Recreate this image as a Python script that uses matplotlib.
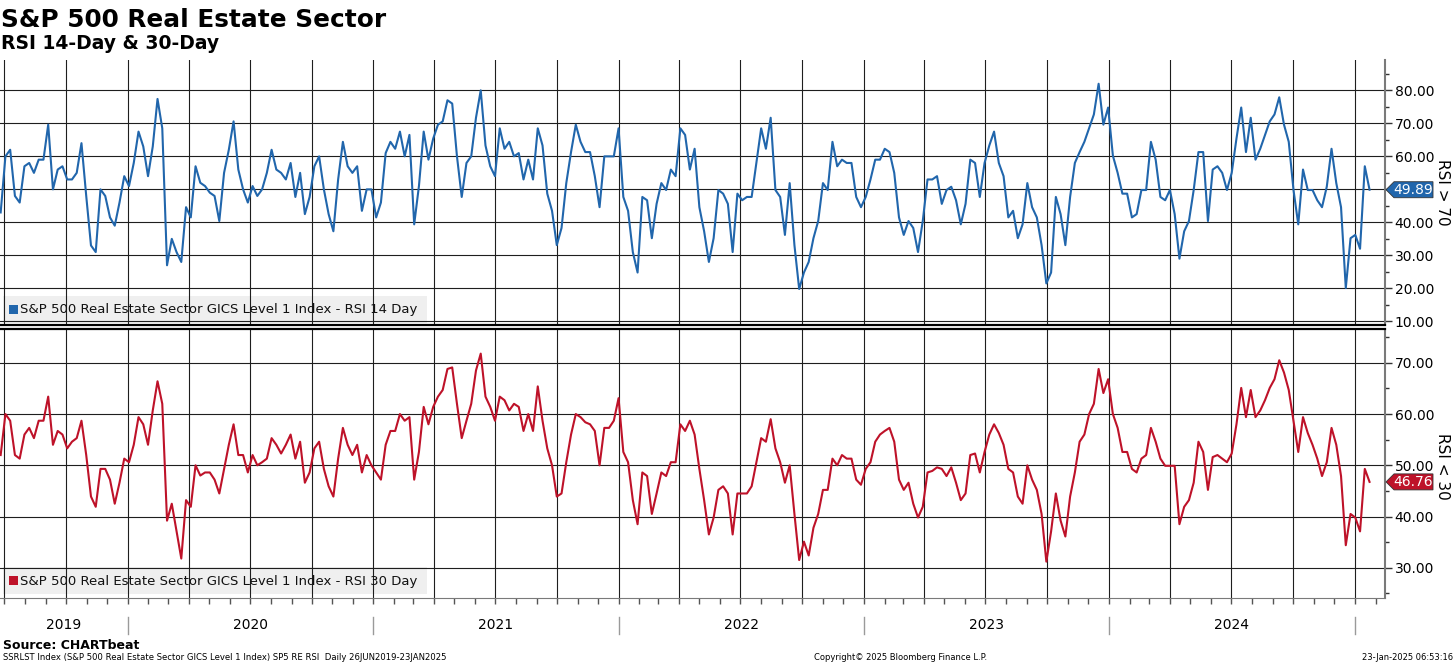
#!/usr/bin/env python3

import matplotlib
matplotlib.use("Agg")
from matplotlib import pyplot as plt
from matplotlib import dates as mdates
from matplotlib import transforms
from matplotlib.lines import Line2D
from matplotlib.patches import Polygon, Rectangle
from matplotlib.ticker import MultipleLocator, FormatStrFormatter, NullFormatter
import pandas as pd

# weekly readings, 26 Jun 2019 .. 23 Jan 2025
rsi_14 = [
    43, 60, 62, 48, 46, 57, 58, 55, 59, 59,
    69.6, 50, 56, 57, 53, 53, 55, 64, 48, 33,
    31, 50, 48, 41.5, 39, 46, 54, 51, 58, 67.5,
    63, 54, 63, 77.4, 68.5, 27, 35, 31, 28, 44.6,
    41.5, 57, 52, 51, 49, 48, 40.4, 55, 62, 70.6,
    56, 50, 46, 51, 48, 50, 55, 62, 56,
    55, 53, 58, 47.7, 55, 42.5, 47.7, 57, 60, 50,
    42.5, 37.3, 53, 64.4, 57, 55, 57, 43.5, 50, 50,
    41.5, 46, 61, 64.4, 62.3, 67.5, 60, 66.5, 39.4, 51,
    67.5, 59, 65.4, 69.6, 70.6, 77, 76, 60, 47.7, 58,
    60, 71.7, 80, 63.3, 57, 54, 68.5, 62.3, 64.4, 60,
    61, 53, 59, 53, 68.5, 63.3, 48.7, 43.5,
    33.1, 38.3, 51.9, 61.3, 69.6, 64.4, 61.3, 61.3, 54, 44.6,
    60, 60, 60, 68.5, 47.7, 43.5, 31, 24.8, 47.7, 46.7,
    35.2, 45.6, 51.9, 49.8, 56, 54, 68.5, 66.5, 56, 62.3,
    44.6, 37.3, 28, 35.2, 49.8, 48.7, 45.6, 31, 48.7, 46.7,
    47.7, 47.7, 58, 68.5, 62.3, 71.7, 49.8, 47.7, 36.2, 51.9,
    33.1, 19.8, 24.8, 28, 35.2, 40.4, 51.9, 49.8,
    64.4, 57, 59, 58, 58, 47.7, 44.6, 47.7, 53, 59,
    59, 62.3, 61.3, 55, 41.5, 36.2, 40.4, 38.3, 31, 40.4,
    53, 53, 54, 45.6, 49.8, 50.8, 46.7, 39.4, 45.6, 59,
    58, 47.7, 58, 63.3, 67.5, 58, 54, 41.5, 43.5, 35.2,
    39.4, 51.9, 44.6, 41.5, 33.1, 21.5, 24.8, 47.7, 42.5, 33.1,
    47.7, 58, 61.3, 64.4, 68.5, 72.7, 82, 69.6,
    74.8, 60.2, 55, 48.7, 48.7, 41.5, 42.5, 49.8, 49.8, 64.4,
    59, 47.7, 46.7, 49.8, 42.5, 29, 37.3, 40.4, 49.8, 61.3,
    61.3, 40.4, 56, 57, 55, 49.8, 55, 65.4, 74.8, 61.3,
    71.7, 59, 62.3, 66.5, 70.6, 72.7, 77.9, 69.6, 64.4, 49.8,
    39.4, 56, 49.8, 49.8, 46.7, 44.6, 50.8, 62.3, 51.9, 44.6,
    20.1, 35.2, 36.2, 32, 57, 49.89,
]
rsi_30 = [
    52, 60, 58.7, 52, 51.3, 56, 57.3, 55.3, 58.7, 58.7,
    63.4, 54, 56.7, 56, 53.3, 54.6, 55.3, 58.7, 52, 43.9,
    41.9, 49.3, 49.3, 47.2, 42.5, 46.6, 51.3, 50.6, 54, 59.4,
    58, 54, 60.7, 66.4, 62, 39.2, 42.5, 37.1, 31.8, 43.2,
    41.9, 50, 48, 48.6, 48.6, 47.2, 44.5, 49.3, 54, 58,
    52, 52, 48.6, 52, 50, 50.6, 51.3, 55.3, 54,
    52.3, 54, 56, 51.3, 54.6, 46.6, 48.6, 53.3, 54.6, 49.3,
    45.9, 43.9, 51.3, 57.3, 54, 52, 54, 48.6, 52, 50,
    48.6, 47.2, 54, 56.7, 56.7, 60, 58.7, 59.4, 47.2, 52.6,
    61.4, 58, 61.4, 63.4, 64.7, 68.8, 69.1, 62, 55.3, 58.7,
    62, 68.5, 71.8, 63.4, 61.4, 58.7, 63.4, 62.7, 60.7, 62,
    61.4, 56.7, 60, 56.7, 65.4, 58.7, 53.3, 50,
    43.9, 44.5, 50.6, 56, 60, 59.4, 58.4, 58, 56.7, 50,
    57.3, 57.3, 58.7, 63.1, 52.6, 50.6, 43.2, 38.5, 48.6, 47.9,
    40.5, 44.5, 48.6, 47.9, 50.6, 50.6, 58, 56.7, 58.7, 56,
    49.3, 43.2, 36.5, 39.8, 45.2, 45.9, 44.5, 36.5, 44.5, 44.5,
    44.5, 45.9, 50.6, 55.3, 54.6, 59, 53.3, 50.6, 46.6, 50,
    40.5, 31.5, 35.1, 32.4, 37.8, 40.5, 45.2, 45.2,
    51.3, 50, 52, 51.3, 51.3, 47.2, 46.2, 49.3, 50.6, 54.6,
    56, 56.7, 57.3, 54.6, 47.2, 45.2, 46.6, 42.5, 39.8, 41.9,
    48.6, 48.9, 49.6, 49.3, 47.9, 49.6, 46.6, 43.2, 44.5, 52,
    52.3, 48.6, 52.6, 56, 58, 56.3, 54, 49.3, 48.6, 43.9,
    42.5, 50, 47.2, 45.2, 40.5, 31.2, 37.1, 44.5, 39.2, 36.1,
    43.9, 48.6, 54.6, 56, 60, 62, 68.8, 64.1,
    66.8, 60, 57.3, 52.6, 52.6, 49.3, 48.6, 51.3, 52, 57.3,
    54.6, 51.3, 49.9, 49.9, 49.9, 38.5, 41.9, 43.2, 46.6, 54.6,
    52.6, 45.2, 51.6, 52, 51.3, 50.6, 52.3, 58, 65.1, 59.4,
    64.7, 59.4, 60.7, 62.7, 65.1, 66.8, 70.5, 68.1, 64.7, 58.7,
    52.6, 59.4, 56.3, 54, 51.3, 47.9, 50.6, 57.3, 54, 47.9,
    34.4, 40.5, 39.8, 37.1, 49.3, 46.76,
]
first_day = "2019-06-26"
last_day = "2025-01-23"
years = [2019, 2020, 2021, 2022, 2023, 2024]

title = "S&P 500 Real Estate Sector"
subtitle = "RSI 14-Day & 30-Day"
legend_14 = "S&P 500 Real Estate Sector GICS Level 1 Index - RSI 14 Day"
legend_30 = "S&P 500 Real Estate Sector GICS Level 1 Index - RSI 30 Day"
side_14 = "RSI > 70"
side_30 = "RSI < 30"
source = "Source: CHARTbeat"
footer_left = "SSRLST Index (S&P 500 Real Estate Sector GICS Level 1 Index) SP5 RE RSI  Daily 26JUN2019-23JAN2025"
footer_mid = "Copyright\u00a9 2025 Bloomberg Finance L.P."
footer_right = "23-Jan-2025 06:53:16"

blue = "#2166ac"
red = "#be1229"

W, H = 1456, 665
plt.rcParams["font.family"] = ["DejaVu Sans"]

dates = pd.date_range(first_day, last_day, periods=len(rsi_14))

fig = plt.figure(figsize=(W / 100, H / 100), dpi=100)


def px(x, y):
    return x / W, 1 - y / H


ax1 = fig.add_axes([0, 1 - 325 / H, 1385 / W, 265 / H])
ax2 = fig.add_axes([0, 1 - 598 / H, 1385 / W, 269 / H])

ax1.plot(dates, rsi_14, color=blue, linewidth=1.5, zorder=2)
ax2.plot(dates, rsi_30, color=red, linewidth=1.5, zorder=2)
ax1.set_ylim(8.9, 89.2)
ax2.set_ylim(24.1, 76.6)

for ax in (ax1, ax2):
    ax.set_xlim(pd.Timestamp("2019-06-25"), pd.Timestamp("2025-02-15"))
    ax.xaxis.set_major_locator(mdates.MonthLocator(bymonth=[1, 4, 7, 10]))
    ax.xaxis.set_minor_locator(mdates.MonthLocator())
    ax.xaxis.set_major_formatter(NullFormatter())
    ax.yaxis.tick_right()
    ax.yaxis.set_major_locator(MultipleLocator(10))
    ax.yaxis.set_minor_locator(MultipleLocator(5))
    ax.yaxis.set_major_formatter(FormatStrFormatter("%.2f"))
    ax.grid(True, which="major", color="#1e1e1e", linewidth=0.8)
    ax.set_axisbelow(True)
    ax.spines["left"].set_visible(False)
    ax.spines["top"].set_visible(False)
    ax.spines["right"].set_color("#7a7a7a")
    ax.spines["right"].set_linewidth(1.5)
    ax.tick_params(axis="y", which="major", length=5, width=1, color="#333333",
                   labelsize=10, pad=2)
    ax.tick_params(axis="y", which="minor", length=3, width=1, color="#333333")

ax1.tick_params(axis="x", which="both", length=0)
ax1.spines["bottom"].set_color("black")
ax1.spines["bottom"].set_linewidth(1.6)
ax2.spines["top"].set_visible(True)
ax2.spines["top"].set_color("black")
ax2.spines["top"].set_linewidth(1.6)
ax2.spines["bottom"].set_color("#7a7a7a")
ax2.tick_params(axis="x", which="both", length=4, width=1, color="#555555")

# legends
for ax, text, color, top in ((ax1, legend_14, blue, 296), (ax2, legend_30, red, 567)):
    x0, y0 = px(3, top + 27)
    x1, y1 = px(427, top)
    ax.add_patch(Rectangle((x0, y0), x1 - x0, y1 - y0, transform=fig.transFigure,
                           facecolor="#efefef", edgecolor="none", zorder=0.1))
    sx, sy = px(9, top + 18)
    sx1, sy1 = px(18, top + 9)
    ax.add_patch(Rectangle((sx, sy), sx1 - sx, sy1 - sy, transform=fig.transFigure,
                           facecolor=color, edgecolor="none", zorder=3))
    tx, ty = px(20, top + 14)
    ax.text(tx, ty, text, transform=fig.transFigure, fontsize=9.5, va="center",
            ha="left", color="#111111", zorder=3)

# value tags on the right axis
inv = fig.transFigure.inverted()
for ax, value, color in ((ax1, rsi_14[-1], blue), (ax2, rsi_30[-1], red)):
    xr = ax.transAxes.transform((1, 0))[0]
    yv = ax.transData.transform((ax.get_xlim()[0], value))[1]
    pts = [(xr + 1, yv), (xr + 9, yv + 8), (xr + 48, yv + 8), (xr + 48, yv - 8), (xr + 9, yv - 8)]
    pts = inv.transform(pts)
    fig.patches.append(Polygon(pts, closed=True, transform=fig.transFigure,
                               facecolor=color, edgecolor="#333333", linewidth=0.6))
    cx, cy = inv.transform((xr + 28, yv))
    fig.text(cx, cy, "%.2f" % value, color="white", fontsize=10, ha="center", va="center")

fig.text(*px(1443, 192), side_14, rotation=270, fontsize=11, ha="center", va="center")
fig.text(*px(1443, 466), side_30, rotation=270, fontsize=11, ha="center", va="center")

# year labels under the lower panel
blend = transforms.blended_transform_factory(ax2.transData, fig.transFigure)
left = ax2.get_xlim()[0]
for year in years:
    start = max(mdates.date2num(pd.Timestamp("%d-01-01" % year)), left)
    end = mdates.date2num(pd.Timestamp("%d-01-01" % (year + 1)))
    fig.text((start + end) / 2, 1 - 625 / H, str(year), transform=blend,
             fontsize=10, ha="center", va="center")
    fig.add_artist(Line2D([end, end], [1 - 617 / H, 1 - 634 / H], transform=blend,
                          color="#9a9a9a", linewidth=1))

fig.text(*px(1, 27), title, fontsize=17.8, fontweight="bold", va="baseline")
fig.text(*px(1, 49), subtitle, fontsize=13.5, fontweight="bold", va="baseline")
fig.text(*px(3, 649), source, fontsize=9, fontweight="bold", va="baseline")
fig.text(*px(3, 658), footer_left, fontsize=6.1, va="center")
fig.text(*px(901, 658), footer_mid, fontsize=6, va="center", ha="center")
fig.text(*px(1453, 658), footer_right, fontsize=6, va="center", ha="right")

fig.savefig("out.png", dpi=100)
